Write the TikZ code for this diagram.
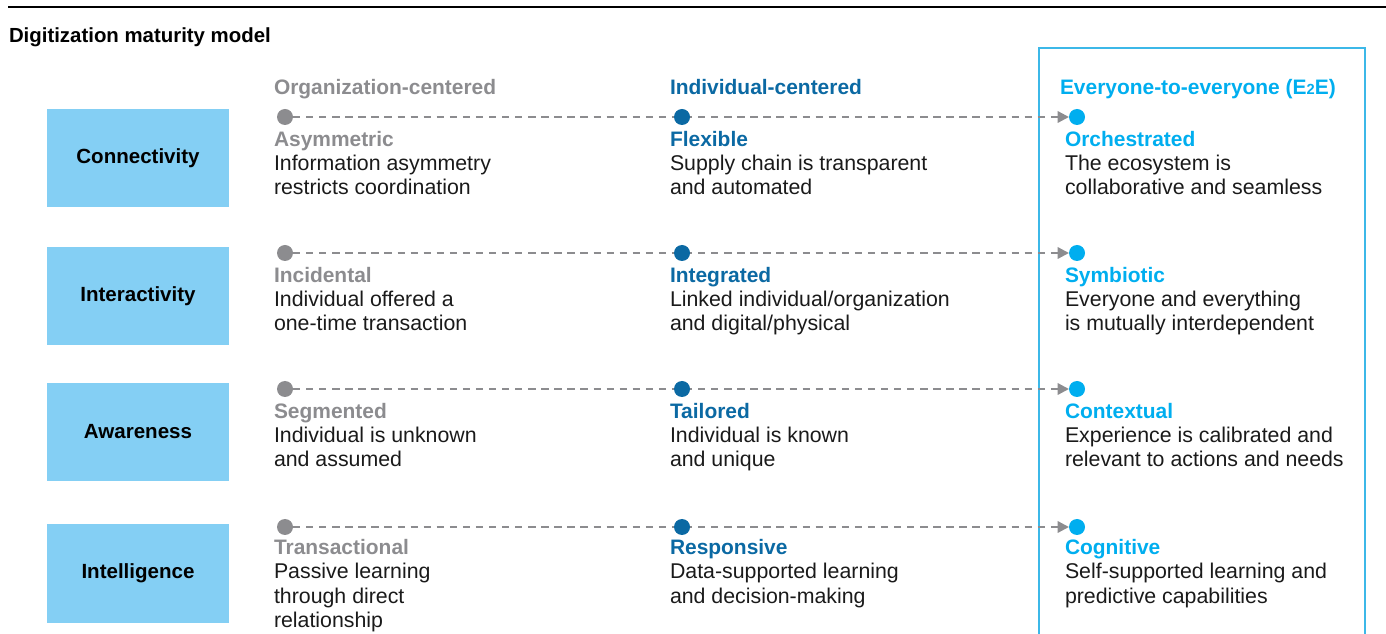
\documentclass[tikz,border=0pt]{standalone}
\usepackage{fontspec}
\setmainfont{Liberation Sans}
\usetikzlibrary{arrows.meta}
\definecolor{orggray}{HTML}{8C8C8F}
\definecolor{inddark}{HTML}{0B69A3}
\definecolor{etoe}{HTML}{00AEEF}
\definecolor{frameblue}{HTML}{3CB8E8}
\definecolor{dimfill}{HTML}{84CFF4}
\definecolor{ink}{HTML}{1A1A1A}
% multi-line left-aligned block whose baseline is the first line
\newcommand{\textlines}[1]{\begin{tabular}[t]{@{}l@{}}#1\end{tabular}}
\begin{document}
\begin{tikzpicture}[x=0.75pt,y=-0.75pt,
  every node/.style={inner sep=0pt,outer sep=0pt,font=\fontsize{16pt}{18pt}\selectfont},
  dimbox/.style={fill=dimfill,draw=none,minimum width=136.5pt,minimum height=73.5pt,font=\fontsize{15.4pt}{18pt}\selectfont\bfseries,text=black},
  head/.style={anchor=base west,font=\fontsize{15.7pt}{18pt}\selectfont\bfseries},
  stage/.style={anchor=base west,font=\fontsize{15.7pt}{18pt}\selectfont\bfseries},
  desc/.style={anchor=base west,text=ink},
  dot/.style={circle,minimum size=12pt},
  flow/.style={draw=orggray,line width=1.7pt,dash pattern=on 5.5pt off 4.3pt,
    -{Triangle[length=8.5pt,width=8.5pt]}}
]
\useasboundingbox (0,0) rectangle (1386,634);

% rule and title
\coordinate (ruleA) at (8,7);
\coordinate (ruleB) at (1386,7);
\draw[line width=1.1pt,black] (ruleA) -- (ruleB);
\node[anchor=base west,font=\fontsize{15.3pt}{18pt}\selectfont\bfseries] (title) at (9,43) {Digitization maturity model};

% highlight frame for the E2E column
\coordinate (frA) at (1039,48);
\coordinate (frB) at (1365,640);
\draw[frameblue,line width=1.4pt] (frA) rectangle (frB);

% column headings
\node[head,text=orggray] (h1) at (274,95) {Organization-centered};
\node[head,text=inddark] (h2) at (670,95) {Individual-centered};
\node[head,text=etoe] (h3) at (1060,95) {Everyone-to-everyone (E{\fontsize{11pt}{11pt}\selectfont 2}E)};

% dimension boxes
\node[dimbox] (b1) at (138,158) {Connectivity};
\node[dimbox] (b2) at (138,296.5) {Interactivity};
\node[dimbox] (b3) at (138,432) {Awareness};
\node[dimbox] (b4) at (138,573.5) {Intelligence};

% rows: dots, connector, stage texts
\foreach \r/\y in {1/117,2/253,3/389,4/527}{
  \node[dot,fill=orggray] (g\r) at (285,\y) {};
  \node[dot,fill=etoe] (e\r) at (1077,\y) {};
  \draw[flow] (g\r.east) -- (e\r.west);
  \node[dot,fill=inddark] (d\r) at (682,\y) {};
}

% row 1
\node[stage,text=orggray] (s11) at (274,147) {Asymmetric};
\node[desc] (t11) at (274,171) {\textlines{Information asymmetry\\restricts coordination}};
\node[stage,text=inddark] (s12) at (670,147) {Flexible};
\node[desc] (t12) at (670,171) {\textlines{Supply chain is transparent\\and automated}};
\node[stage,text=etoe] (s13) at (1065,147) {Orchestrated};
\node[desc] (t13) at (1065,171) {\textlines{The ecosystem is\\collaborative and seamless}};

% row 2
\node[stage,text=orggray] (s21) at (274,283) {Incidental};
\node[desc] (t21) at (274,307) {\textlines{Individual offered a\\one-time transaction}};
\node[stage,text=inddark] (s22) at (670,283) {Integrated};
\node[desc] (t22) at (670,307) {\textlines{Linked individual/organization\\and digital/physical}};
\node[stage,text=etoe] (s23) at (1065,283) {Symbiotic};
\node[desc] (t23) at (1065,307) {\textlines{Everyone and everything\\is mutually interdependent}};

% row 3
\node[stage,text=orggray] (s31) at (274,419) {Segmented};
\node[desc] (t31) at (274,443) {\textlines{Individual is unknown\\and assumed}};
\node[stage,text=inddark] (s32) at (670,419) {Tailored};
\node[desc] (t32) at (670,443) {\textlines{Individual is known\\and unique}};
\node[stage,text=etoe] (s33) at (1065,419) {Contextual};
\node[desc] (t33) at (1065,443) {\textlines{Experience is calibrated and\\relevant to actions and needs}};

% row 4
\node[stage,text=orggray] (s41) at (274,555) {Transactional};
\node[desc] (t41) at (274,579) {\textlines{Passive learning\\through direct\\relationship}};
\node[stage,text=inddark] (s42) at (670,555) {Responsive};
\node[desc] (t42) at (670,579) {\textlines{Data-supported learning\\and decision-making}};
\node[stage,text=etoe] (s43) at (1065,555) {Cognitive};
\node[desc] (t43) at (1065,579) {\textlines{Self-supported learning and\\predictive capabilities}};
\end{tikzpicture}
\end{document}
